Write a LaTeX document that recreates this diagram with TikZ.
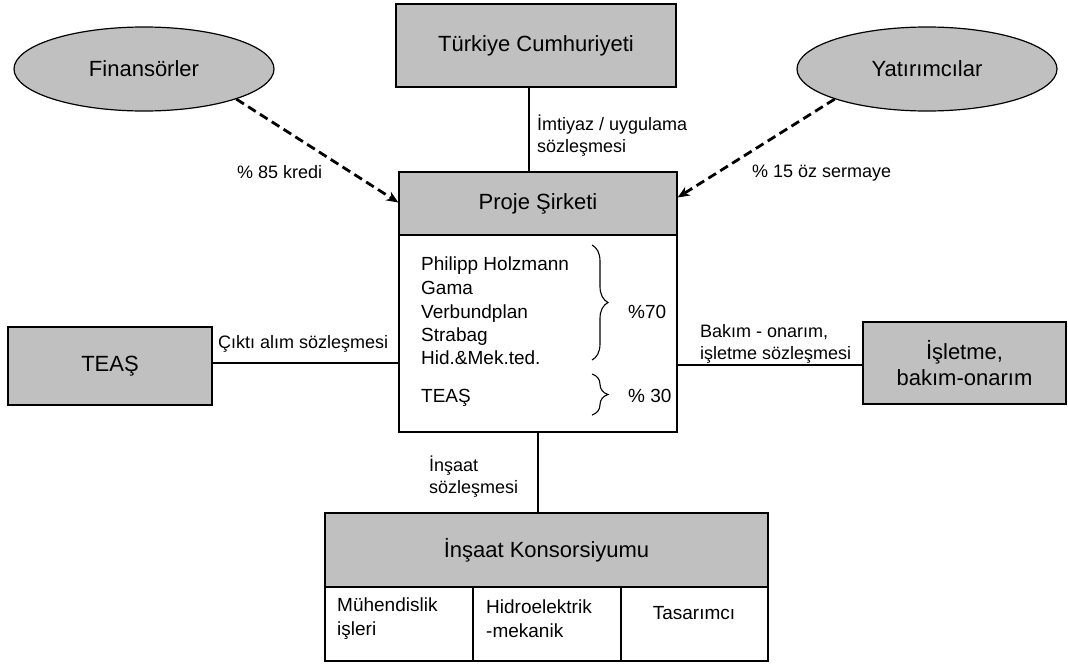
\documentclass[tikz,border=0pt]{standalone}
\usepackage{fontspec}
\setmainfont{Liberation Sans}
\usetikzlibrary{shapes.geometric,arrows.meta,decorations.pathreplacing}
\definecolor{boxgray}{HTML}{C0C0C0}
\newcommand\fT{\fontsize{22}{26}\selectfont}
\newcommand\fL{\fontsize{18}{22}\selectfont}
\newcommand\fI{\fontsize{19}{23.5}\selectfont}
\begin{document}
\begin{tikzpicture}[x=1pt,y=-1pt,
  graybox/.style={draw=black,line width=1.3pt,fill=boxgray,inner sep=0pt,font=\fT,align=center},
  whitebox/.style={draw=black,line width=1.3pt,fill=white,inner sep=0pt},
  ell/.style={ellipse,draw=black,line width=1.2pt,fill=boxgray,inner sep=0pt,minimum width=260pt,minimum height=84pt,font=\fT},
  conn/.style={line width=1.2pt},
  dasharrow/.style={line width=2.8pt,dash pattern=on 9pt off 5pt,-{Stealth[length=12pt,width=10pt]}},
  lbl/.style={font=\fL,align=left,inner sep=0pt,anchor=west},
  inner/.style={font=\fI,align=left,inner sep=0pt,anchor=west},
  innerb/.style={font=\fI,inner sep=0pt,anchor=base west},
  brc/.style={decorate,decoration={brace,amplitude=16pt,raise=0pt},line width=1.1pt}
]
\useasboundingbox (0,0) rectangle (1068,664);
% ellipses
\node[ell] (fin) at (144,69) {Finansörler};
\node[ell] (yat) at (927,69) {Yatırımcılar};
% boxes
\node[graybox,minimum width=280pt,minimum height=83pt] (tc) at (536,45.5) {Türkiye Cumhuriyeti};
\node[graybox,minimum width=278pt,minimum height=63pt] (ps) at (538,203.5) {Proje Şirketi};
\node[whitebox,minimum width=278pt,minimum height=197pt] (body) at (538,333.5) {};
\node[graybox,minimum width=204pt,minimum height=78pt] (teas) at (110,366) {TEAŞ};
\node[graybox,minimum width=203pt,minimum height=82pt] (isl) at (964.5,363) {İşletme,\\bakım-onarım};
\node[graybox,minimum width=443pt,minimum height=74pt] (ins) at (546.5,550) {İnşaat Konsorsiyumu};
\node[whitebox,minimum width=148pt,minimum height=74pt] (c1) at (399,624) {};
\node[whitebox,minimum width=148pt,minimum height=74pt] (c2) at (547,624) {};
\node[whitebox,minimum width=147pt,minimum height=74pt] (c3) at (694.5,624) {};
% cell texts
\node[inner] (t1) at (337,618.5) {Mühendislik\\işleri};
\node[inner] (t2) at (486,618.5) {Hidroelektrik\\-mekanik};
\node[font=\fI,inner sep=0pt] (t3) at (694,613) {Tasarımcı};
% inner list
\node[innerb] (l1) at (421,270) {Philipp Holzmann};
\node[innerb] (l2) at (421,294) {Gama};
\node[innerb] (l3) at (421,318) {Verbundplan};
\node[innerb] (l4) at (421,341) {Strabag};
\node[innerb] (l5) at (421,364) {Hid.\&Mek.ted.};
\node[innerb] (l6) at (421,402) {TEAŞ};
\node[innerb] (p70) at (628,318) {\%70};
\node[innerb] (p30) at (628,402) {\% 30};
\coordinate (b1a) at (592,245);
\coordinate (b1b) at (592,360);
\coordinate (b2a) at (592,374);
\coordinate (b2b) at (592,415);
\draw[brc] (b1a) -- (b1b);
\draw[brc] (b2a) -- (b2b);
% connectors
\draw[conn] ([xshift=-7pt]tc.south) -- ([xshift=-9pt]ps.north);
\draw[conn] ([yshift=3pt]teas.east) -- ([yshift=3pt]teas.east -| body.west);
\draw[conn] ([yshift=-2pt]isl.west) -- ([yshift=-2pt]isl.west -| body.east);
\draw[conn] (body.south) -- (body.south |- ins.north);
\draw[dasharrow] (fin.south east) -- ([yshift=1pt]ps.west);
\draw[dasharrow] (yat.south west) -- ([yshift=6pt]ps.east);
% labels
\node[lbl] (lb1) at (537,136) {İmtiyaz / uygulama\\sözleşmesi};
\node[lbl] (lb2) at (237,172) {\% 85 kredi};
\node[lbl] (lb3) at (752,173) {\% 15 öz sermaye};
\node[lbl] (lb4) at (218,344) {Çıktı alım sözleşmesi};
\node[lbl] (lb5) at (700,343.5) {Bakım - onarım,\\işletme sözleşmesi};
\node[lbl] (lb6) at (429,476.5) {İnşaat\\sözleşmesi};
\end{tikzpicture}
\end{document}
